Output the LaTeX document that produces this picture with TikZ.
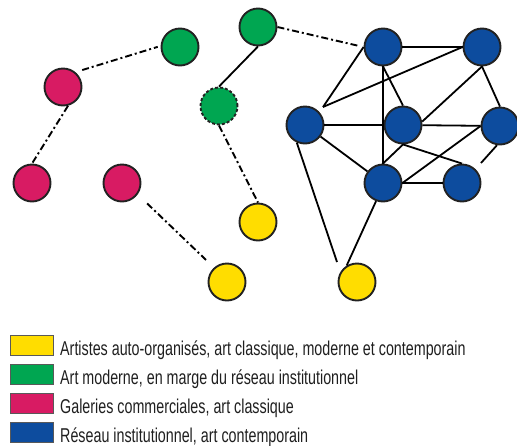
\documentclass[tikz,border=0pt]{standalone}
\usepackage{fontspec}
\setmainfont{Liberation Sans}[FakeStretch=0.715]
\definecolor{cyel}{HTML}{FFDD00}
\definecolor{cgrn}{HTML}{00A651}
\definecolor{cpnk}{HTML}{D81B63}
\definecolor{cblu}{HTML}{0D4C9E}
\definecolor{edgec}{HTML}{222222}
\begin{document}
\begin{tikzpicture}[x=1pt,y=-1pt,
  nd/.style={circle,draw=edgec,line width=1.9pt,minimum size=37pt,inner sep=0pt},
  yel/.style={nd,fill=cyel},
  grn/.style={nd,fill=cgrn},
  pnk/.style={nd,fill=cpnk},
  blu/.style={nd,fill=cblu},
  grndash/.style={nd,fill=cgrn,dash pattern=on 3pt off 2pt},
  link/.style={line width=1.8pt,black},
  dashdot/.style={line width=1.9pt,black,dash pattern=on 7pt off 3pt on 2pt off 3pt},
  legbox/.style={draw=black!65,line width=0.9pt,minimum width=43pt,minimum height=20pt,inner sep=0pt,anchor=north west},
  legtxt/.style={anchor=base west,inner sep=0pt,font=\fontsize{20}{24}\selectfont,text=black!88}]
\useasboundingbox (0,0) rectangle (517,445);
% nodes
\node[pnk] (P1) at (63,87) {};
\node[pnk] (P2) at (32,183) {};
\node[pnk] (P3) at (122,183) {};
\node[grn] (G1) at (180,47) {};
\node[grn] (G2) at (258,27) {};
\node[grndash] (GD) at (219,106) {};
\node[yel] (Y1) at (258,222) {};
\node[yel] (Y2) at (227,282) {};
\node[yel] (Y3) at (357,282) {};
\node[blu] (B1) at (383,47) {};
\node[blu] (B2) at (482,47) {};
\node[blu] (B3) at (305,125) {};
\node[blu] (B4) at (403,125) {};
\node[blu] (B5) at (500,126) {};
\node[blu] (B6) at (383,183) {};
\node[blu] (B7) at (462,183) {};
\coordinate (b3c) at (323,107);
\coordinate (b57) at (481,163);
\coordinate (y3c) at (337,262);
% dash-dot links
\draw[dashdot,shorten <=7pt,shorten >=3pt] (P1.50) -- (G1.177);
\draw[dashdot] (P1.285) -- (P2.north);
\draw[dashdot,shorten <=13pt,shorten >=11pt] (P3.324) -- (Y2.132);
\draw[dashdot] (GD.south) -- (Y1.north);
\draw[dashdot,shorten >=4pt] (G2.east) -- (B1.west);
% solid links
\draw[link] (G2.south) -- (GD.north);
\draw[link] (B1) -- (B2);
\draw[link] (B1.west) -- (b3c);
\draw[link] (B2.west) -- (b3c);
\draw[link] (B1.south) -- (B4.north);
\draw[link] (B1.south) -- (B6.north);
\draw[link] (B2.south) -- (B4.10);
\draw[link] (B2.south) -- (B5.north);
\draw[link] (B3) -- (B4);
\draw[link] (B4) -- (B5);
\draw[link] (B4.south) -- (B6.north);
\draw[link] (B4.south) -- (B7.north);
\draw[link] (B5.west) -- (B6.east);
\draw[link] (B5.261) -- (b57);
\draw[link] (B6) -- (B7);
\draw[link] (B3) -- (B6);
\draw[link] (B3.245) -- (y3c);
\draw[link] (B6.249) -- (Y3.122);
% legend
\node[legbox,fill=cyel] (L1) at (10,335) {};
\node[legbox,fill=cgrn] (L2) at (10,364) {};
\node[legbox,fill=cpnk] (L3) at (10,393) {};
\node[legbox,fill=cblu] (L4) at (10,422) {};
\node[legtxt] (T1) at (60,355) {Artistes auto-organisés, art classique, moderne et contemporain};
\node[legtxt] (T2) at (60,384) {Art moderne, en marge du réseau institutionnel};
\node[legtxt] (T3) at (60,413) {Galeries commerciales, art classique};
\node[legtxt] (T4) at (60,442) {Réseau institutionnel, art contemporain};
\end{tikzpicture}
\end{document}
